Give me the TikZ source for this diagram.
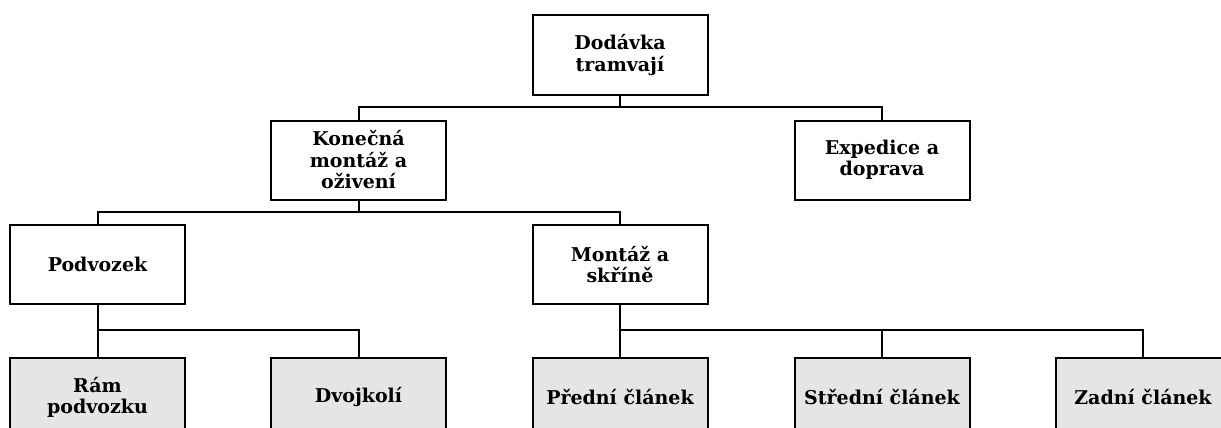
\documentclass[tikz,border=0pt]{standalone}
\usepackage{fontspec}
\setmainfont{DejaVu Serif}
\begin{document}
\begin{tikzpicture}[x=1pt,y=-1pt,
  box/.style={draw,line width=2pt,rectangle,minimum width=175pt,minimum height=79pt,
    align=center,font=\bfseries\fontsize{19}{21.5}\selectfont,inner sep=2pt},
  leaf/.style={box,fill=gray!20},
  link/.style={line width=2pt}]
\useasboundingbox (0,0) rectangle (1221,428);
\clip (0,0) rectangle (1221,428);
% tree nodes
\node[box] (dod) at (620,55) {Dodávka\\tramvají};
\node[box] (kon) at (358.5,160) {Konečná\\montáž a\\oživení};
\node[box] (exp) at (882,160) {Expedice a\\doprava};
\node[box] (pod) at (97.5,264.5) {Podvozek};
\node[box] (mon) at (620,264.5) {Montáž a\\skříně};
\node[leaf] (ram) at (97.5,397.5) {Rám\\podvozku};
\node[leaf] (dvo) at (358.5,397.5) {Dvojkolí};
\node[leaf] (pre) at (620,397.5) {Přední článek};
\node[leaf] (str) at (882,397.5) {Střední článek};
\node[leaf] (zad) at (1143,397.5) {Zadní článek};
% bus connectors
\draw[link] (dod.south) -- (dod.south |- 0,106.5) -| (kon.north);
\draw[link] (dod.south |- 0,106.5) -| (exp.north);
\draw[link] (kon.south) -- (kon.south |- 0,212) -| (pod.north);
\draw[link] (kon.south |- 0,212) -| (mon.north);
\draw[link] (pod.south) -- (pod.south |- 0,330) -| (ram.north);
\draw[link] (pod.south |- 0,330) -| (dvo.north);
\draw[link] (mon.south) -- (mon.south |- 0,330) -| (pre.north);
\draw[link] (mon.south |- 0,330) -| (str.north);
\draw[link] (mon.south |- 0,330) -| (zad.north);
\end{tikzpicture}
\end{document}
